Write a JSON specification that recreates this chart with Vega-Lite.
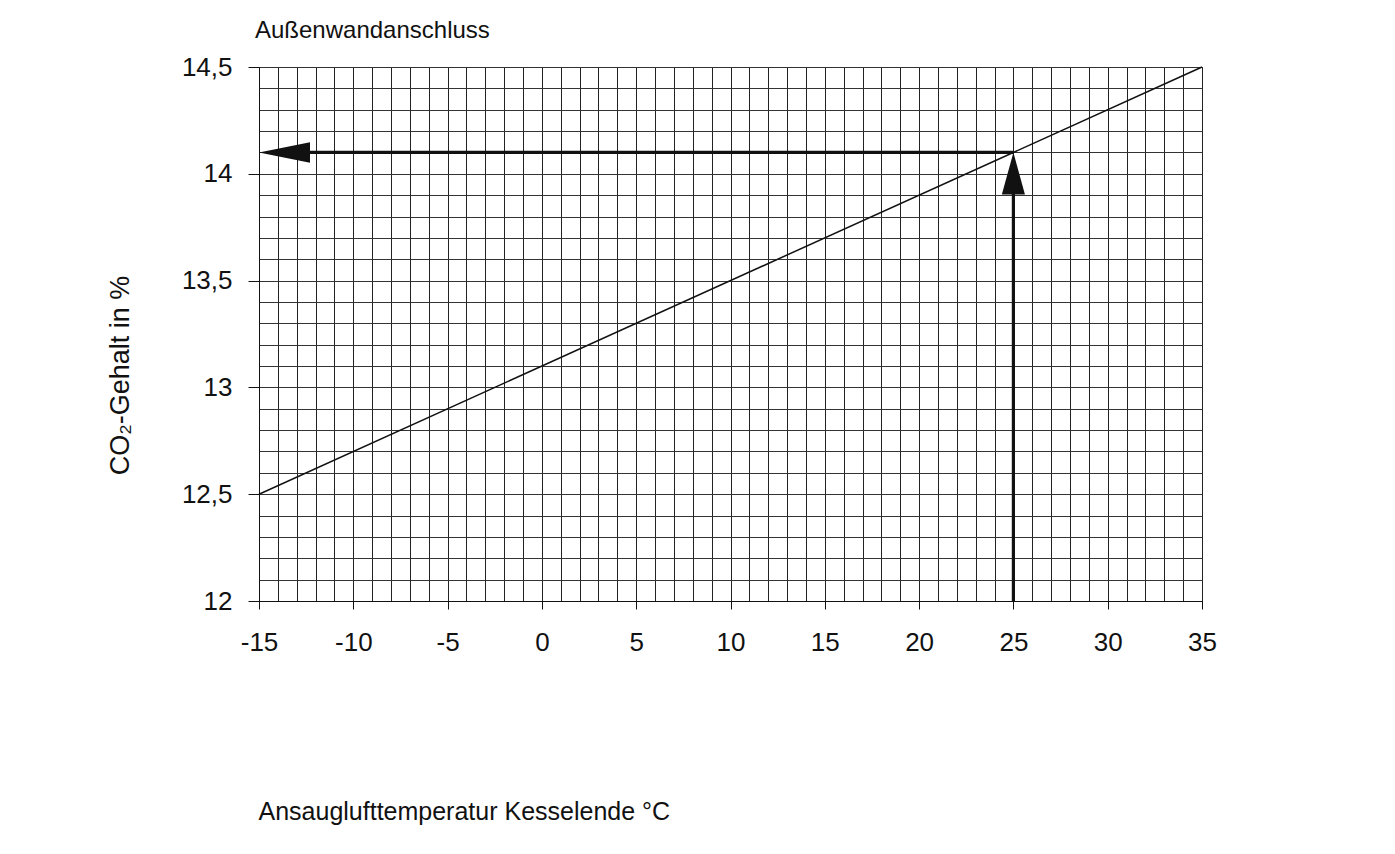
{
  "$schema": "https://vega.github.io/schema/vega-lite/v6.json",
  "width": 943,
  "height": 534,
  "autosize": {"type": "none"},
  "padding": {"left": 259, "top": 67, "right": 193, "bottom": 253},
  "background": "white",
  "config": {"font": "Liberation Sans", "view": {"stroke": "#111", "strokeWidth": 1}},
  "title": {"text": "Außenwandanschluss", "anchor": "start", "frame": "group", "baseline": "alphabetic", "offset": -8, "dx": -4, "fontSize": 24, "fontWeight": "normal", "color": "#111", "font": "Liberation Sans"},
  "datasets": {
    "line": [{"x": -15, "y": 12.5}, {"x": 35, "y": 14.5}],
    "arrows": [{"x": -13.5, "x2": 25, "y": 14.1, "y2": 14.1}, {"x": 25, "x2": 25, "y": 12, "y2": 13.95}],
    "heads": [{"dir": "left", "x": -15, "y": 14.1}, {"dir": "up", "x": 25, "y": 14.1}]
  },
  "encoding": {
    "x": {
      "field": "x", "type": "quantitative",
      "scale": {"domain": [-15, 35], "nice": false, "zero": false},
      "axis": {
        "title": "Ansauglufttemperatur Kesselende °C",
        "values": [-15,-14,-13,-12,-11,-10,-9,-8,-7,-6,-5,-4,-3,-2,-1,0,1,2,3,4,5,6,7,8,9,10,11,12,13,14,15,16,17,18,19,20,21,22,23,24,25,26,27,28,29,30,31,32,33,34,35],
        "grid": true, "gridColor": "#222", "gridWidth": 1, "gridOpacity": 1,
        "domain": true, "domainColor": "#111", "domainWidth": 1,
        "ticks": true, "tickColor": "#111", "tickSize": 8, "tickWidth": 1,
        "tickOpacity": {"condition": {"test": "datum.value % 5 === 0", "value": 1}, "value": 0},
        "labelExpr": "datum.value % 5 === 0 ? '' + datum.value : ''",
        "labelFontSize": 26, "labelColor": "#111", "labelPadding": 20,
        "labelFlush": false, "labelOverlap": false, "labelBound": false,
        "titleFontSize": 25, "titleFontWeight": "normal", "titleColor": "#111",
        "titleAlign": "left", "titleBaseline": "alphabetic", "titleX": -1, "titleY": 218
      }
    },
    "y": {
      "field": "y", "type": "quantitative",
      "scale": {"domain": [12, 14.5], "nice": false, "zero": false},
      "axis": {
        "title": "CO₂-Gehalt in %",
        "values": [12,12.1,12.2,12.3,12.4,12.5,12.6,12.7,12.8,12.9,13,13.1,13.2,13.3,13.4,13.5,13.6,13.7,13.8,13.9,14,14.1,14.2,14.3,14.4,14.5],
        "grid": true, "gridColor": "#333", "gridWidth": 1, "gridOpacity": 1,
        "domain": true, "domainColor": "#111", "domainWidth": 1,
        "ticks": true, "tickColor": "#111", "tickSize": 11, "tickWidth": 1,
        "tickOpacity": {"condition": {"test": "abs(datum.value*2 - round(datum.value*2)) < 0.001", "value": 1}, "value": 0},
        "labelExpr": "abs(datum.value*2 - round(datum.value*2)) < 0.001 ? replace('' + datum.value, '.', ',') : ''",
        "labelFontSize": 26, "labelColor": "#111", "labelPadding": 16,
        "labelOverlap": false, "labelBound": false, "labelFlush": false,
        "titleFontSize": 27, "titleFontWeight": "normal", "titleColor": "#111",
        "titleAngle": 270, "titleAlign": "center", "titleBaseline": "middle", "titleX": -139, "titleY": 308
      }
    }
  },
  "layer": [
    {
      "data": {"name": "line"},
      "mark": {"type": "line", "color": "#111", "strokeWidth": 1.5}
    },
    {
      "data": {"name": "arrows"},
      "mark": {"type": "rule", "color": "#111", "strokeWidth": 3.2},
      "encoding": {"x2": {"field": "x2"}, "y2": {"field": "y2"}}
    },
    {
      "data": {"name": "heads"},
      "transform": [{"filter": "datum.dir === 'left'"}],
      "mark": {"type": "point", "filled": true, "fill": "#111", "opacity": 1, "strokeWidth": 0, "shape": "M0,0L2,-0.4L2,0.4Z", "size": 2601}
    },
    {
      "data": {"name": "heads"},
      "transform": [{"filter": "datum.dir === 'up'"}],
      "mark": {"type": "point", "filled": true, "fill": "#111", "opacity": 1, "strokeWidth": 0, "shape": "M0,0L-0.55,2L0.55,2Z", "size": 1764}
    }
  ]
}
